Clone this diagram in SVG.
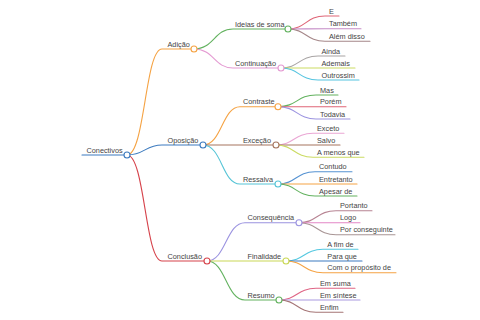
<svg xmlns="http://www.w3.org/2000/svg" width="480" height="320" viewBox="0 0 480 320">
<style>
text{font-family:"Liberation Sans",Arial,sans-serif;font-size:7.3px;fill:#444}
path{fill:none;stroke-width:1.1;stroke-linecap:round}
circle{fill:#fff;stroke-width:1.1}
</style>
<rect width="480" height="320" fill="#fff"/>
<g id="connectors">
<!-- root -->
<path d="M82 155H127" stroke="#3d7bbf" stroke-width="1.5"/>
<path d="M127 155C145 155 145 49 162 49H194" stroke="#f5a344"/>
<path d="M127 155C145 155 145 145 162 145H203" stroke="#3d7bbf"/>
<path d="M127 155C145 155 145 261 162 261H207" stroke="#d6434b"/>
<!-- Adição -->
<path d="M194 49C214 49 214 29 233 29H288" stroke="#63b25f"/>
<path d="M194 49C214 49 214 68 233 68H281" stroke="#e49ad2"/>
<!-- Oposição -->
<path d="M203 145C222 145 222 106.7 240 106.7H278" stroke="#f5a344"/>
<path d="M203 145H276" stroke="#a5755f"/>
<path d="M203 145C222 145 222 184 240 184H278" stroke="#55c4d6"/>
<!-- Conclusão -->
<path d="M207 261C226 261 226 222.7 245 222.7H299" stroke="#9b93e0"/>
<path d="M207 261H286" stroke="#c9d856"/>
<path d="M207 261C226 261 226 300 245 300H279" stroke="#63b25f"/>
<!-- Ideias leaves -->
<path d="M288 29C306 29 306 16 325 16H339" stroke="#df6577"/>
<path d="M288 29C306 29 306 28.7 325 28.7H361" stroke="#c58cc6"/>
<path d="M288 29C306 29 306 41.3 325 41.3H370" stroke="#a58789"/>
<!-- Continuação leaves -->
<path d="M281 68C299 68 299 56 318 56H345" stroke="#a8a4a4"/>
<path d="M281 68H355" stroke="#cbdb63"/>
<path d="M281 68C299 68 299 80 318 80H359" stroke="#55c4e0"/>
<!-- Contraste leaves -->
<path d="M278 106.7C297 106.7 297 95 316 95H338" stroke="#63b25f"/>
<path d="M278 106.7H346" stroke="#df6577"/>
<path d="M278 106.7C297 106.7 297 119 316 119H350" stroke="#9b93e0"/>
<!-- Exceção leaves -->
<path d="M276 145C294 145 294 133.3 313 133.3H344" stroke="#eaa6d4"/>
<path d="M276 145H340" stroke="#a5755f"/>
<path d="M276 145C294 145 294 157.3 313 157.3H364" stroke="#cbdb63"/>
<!-- Ressalva leaves -->
<path d="M278 184C296 184 296 171.7 315 171.7H352" stroke="#5592d2"/>
<path d="M278 184H357" stroke="#f5a344"/>
<path d="M278 184C296 184 296 196 315 196H357" stroke="#63b25f"/>
<!-- Consequência leaves -->
<path d="M299 222.7C317 222.7 317 210.7 336 210.7H372" stroke="#b78493"/>
<path d="M299 222.7H360" stroke="#e386c6"/>
<path d="M299 222.7C317 222.7 317 234.7 336 234.7H395" stroke="#a89595"/>
<!-- Finalidade leaves -->
<path d="M286 261C304 261 304 249.3 323 249.3H358" stroke="#55c8e0"/>
<path d="M286 261H362" stroke="#3d7bbf"/>
<path d="M286 261C304 261 304 272.7 323 272.7H396" stroke="#f5a344"/>
<!-- Resumo leaves -->
<path d="M279 300C297 300 297 288.3 316 288.3H355" stroke="#df6585"/>
<path d="M279 300H360" stroke="#a99ae0"/>
<path d="M279 300C297 300 297 312.3 316 312.3H343" stroke="#a57576"/>
</g>
<g id="n-root"><text x="86.5" y="152.5">Conectivos</text><circle cx="127" cy="155" r="3" stroke="#3d7bbf"/></g>
<g id="n-adicao"><text x="167.5" y="46.5">Adição</text><circle cx="194" cy="49" r="3" stroke="#f5a344"/></g>
<g id="n-oposicao"><text x="167.5" y="142.5">Oposição</text><circle cx="203" cy="145" r="3" stroke="#3d7bbf"/></g>
<g id="n-conclusao"><text x="167.5" y="258.5">Conclusão</text><circle cx="207" cy="261" r="3" stroke="#d6434b"/></g>
<g id="n-ideias"><text x="235" y="26.5">Ideias de soma</text><circle cx="288" cy="29" r="3" stroke="#63b25f"/></g>
<g id="n-continuacao"><text x="235" y="65.5">Continuação</text><circle cx="281" cy="68" r="3" stroke="#e49ad2"/></g>
<g id="n-contraste"><text x="243" y="104.2">Contraste</text><circle cx="278" cy="106.7" r="3" stroke="#f5a344"/></g>
<g id="n-excecao"><text x="243" y="142.5">Exceção</text><circle cx="276" cy="145" r="3" stroke="#a5755f"/></g>
<g id="n-ressalva"><text x="243" y="181.5">Ressalva</text><circle cx="278" cy="184" r="3" stroke="#55c4d6"/></g>
<g id="n-consequencia"><text x="247.5" y="220.2">Consequência</text><circle cx="299" cy="222.7" r="3" stroke="#9b93e0"/></g>
<g id="n-finalidade"><text x="247.5" y="258.5">Finalidade</text><circle cx="286" cy="261" r="3" stroke="#c9d856"/></g>
<g id="n-resumo"><text x="247.5" y="297.5">Resumo</text><circle cx="279" cy="300" r="3" stroke="#63b25f"/></g>
<g id="leaves">
<g id="l-e"><text x="329" y="13.5">E</text></g>
<g id="l-tambem"><text x="329" y="26.2">Também</text></g>
<g id="l-alem"><text x="329" y="38.8">Além disso</text></g>
<g id="l-ainda"><text x="321.5" y="53.5">Ainda</text></g>
<g id="l-ademais"><text x="321.5" y="65.8">Ademais</text></g>
<g id="l-outrossim"><text x="321.5" y="77.5">Outrossim</text></g>
<g id="l-mas"><text x="320" y="92.5">Mas</text></g>
<g id="l-porem"><text x="320" y="104.2">Porém</text></g>
<g id="l-todavia"><text x="320" y="116.5">Todavia</text></g>
<g id="l-exceto"><text x="317" y="130.8">Exceto</text></g>
<g id="l-salvo"><text x="317" y="142.8">Salvo</text></g>
<g id="l-amenos"><text x="317" y="154.8">A menos que</text></g>
<g id="l-contudo"><text x="319" y="169.2">Contudo</text></g>
<g id="l-entretanto"><text x="319" y="181.5">Entretanto</text></g>
<g id="l-apesar"><text x="319" y="193.5">Apesar de</text></g>
<g id="l-portanto"><text x="340" y="208.2">Portanto</text></g>
<g id="l-logo"><text x="340" y="220.2">Logo</text></g>
<g id="l-porconseguinte"><text x="340" y="232.2">Por conseguinte</text></g>
<g id="l-afimde"><text x="327.3" y="246.8">A fim de</text></g>
<g id="l-paraque"><text x="327.3" y="258.5">Para que</text></g>
<g id="l-comoproposito"><text x="327.3" y="270.2">Com o propósito de</text></g>
<g id="l-emsuma"><text x="320" y="285.8">Em suma</text></g>
<g id="l-emsintese"><text x="320" y="297.5">Em síntese</text></g>
<g id="l-enfim"><text x="320" y="309.8">Enfim</text></g>
</g>
</svg>
